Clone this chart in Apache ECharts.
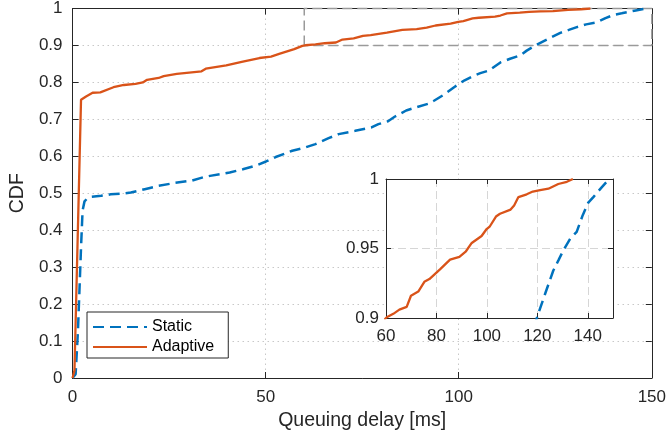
<!DOCTYPE html>
<html>
<head>
<meta charset="utf-8">
<script src="https://cdn.jsdelivr.net/npm/echarts@6/dist/echarts.min.js"></script>
<style>
html,body{margin:0;padding:0;background:#fff;}
#chart{width:669px;height:437px;}
</style>
</head>
<body>
<div id="chart"></div>
<script>
// ---- data ----
var seriesNames = ['Static', 'Adaptive'];
var staticCdf = [
  [0,0],[0.8,0.01],[1.4,0.127],[2.2,0.353],[2.6,0.453],[3.1,0.478],[3.8,0.486],[4.8,0.490],
  [7.4,0.493],[9.9,0.497],[12.9,0.499],[15.1,0.502],[18.7,0.511],[22.3,0.520],[26.5,0.528],
  [30.8,0.534],[33.8,0.543],[35.6,0.547],[40.7,0.556],[44.1,0.565],[47.5,0.575],[50.1,0.586],
  [52.6,0.598],[56.9,0.615],[60.3,0.624],[62.9,0.633],[66.3,0.649],[68.9,0.660],[73.2,0.669],
  [77.4,0.678],[79.2,0.687],[81.7,0.695],[83.4,0.707],[86.4,0.724],[88.5,0.731],[92,0.742],
  [93.7,0.751],[96.2,0.767],[98.8,0.787],[101.4,0.805],[103.5,0.816],[105.6,0.825],[107.8,0.832],
  [110.8,0.854],[113.3,0.864],[115.9,0.873],[117.6,0.886],[119.8,0.900],[123.2,0.918],[126.3,0.934],
  [128.5,0.942],[130.4,0.949],[133,0.957],[135.6,0.962],[138,0.974],[140.2,0.983],[142.2,0.987],
  [145.5,0.994],[148.5,1.0]
];
var adaptiveCdf = [
  [0,0],[0.5,0.02],[2.2,0.753],[3.5,0.762],[5.2,0.772],[7.2,0.773],[10.6,0.787],[13.3,0.793],
  [16.3,0.796],[18.2,0.800],[19.3,0.807],[22.3,0.812],[23.6,0.817],[27,0.823],[33.4,0.830],
  [34.5,0.837],[39.8,0.846],[44.1,0.856],[48.4,0.866],[51.4,0.870],[53.5,0.877],[57.4,0.890],
  [59.5,0.899],[60.3,0.9005],[62.9,0.903],[65.3,0.906],[68.2,0.908],[69.9,0.916],[72.8,0.919],
  [75.2,0.926],[77.2,0.928],[81.4,0.935],[85.4,0.942],[89.1,0.944],[91.7,0.948],[94,0.954],
  [97.9,0.959],[99.9,0.964],[101.2,0.966],[103.6,0.973],[105.2,0.975],[109.4,0.978],[110.8,0.981],
  [112.5,0.987],[115.8,0.989],[118.2,0.991],[121.1,0.992],[124.4,0.993],[128.3,0.9964],
  [131.7,0.998],[134.1,1.0]
];
var mainXRange = [0, 150, 50];
var mainYRange = [0, 1, 0.1];
var zoomXRange = [60, 150, 20];
var zoomYRange = [0.9, 1, 0.05];
var zoomBoxX = [60, 150];
var zoomBoxY = [0.9, 1];

// ---- chart ----
var FONT = "'Liberation Sans', Arial, Helvetica, sans-serif";
var AX = '#262626';
var BLUE = '#0072BD';
var ORANGE = '#D95319';

var zoomBox = [
  [zoomBoxX[0], zoomBoxY[0]], [zoomBoxX[0], zoomBoxY[1]], [zoomBoxX[1], zoomBoxY[1]],
  [zoomBoxX[1], zoomBoxY[0]], [zoomBoxX[0], zoomBoxY[0]]
];

function axisBase(grid, r, extra) {
  var a = {
    gridIndex: grid, type: 'value', min: r[0], max: r[1], interval: r[2],
    axisLine: {show: true, onZero: false, lineStyle: {color: AX, width: 1}},
    axisTick: {show: true, inside: true, length: 6, lineStyle: {color: AX, width: 1}},
    axisLabel: {show: false},
    splitLine: {show: false}
  };
  for (var k in extra) a[k] = extra[k];
  return a;
}

var chart = echarts.init(document.getElementById('chart'), null, {renderer: 'canvas'});
var option = {
  animation: false,
  backgroundColor: '#fff',
  textStyle: {fontFamily: FONT},
  grid: [
    {left: 69, right: 14, top: 7, bottom: 59, containLabel: false},
    {left: 386, top: 179, width: 227, height: 139, containLabel: false,
     show: true, backgroundColor: '#fff', borderWidth: 0, z: 10}
  ],
  legend: {
    data: seriesNames,
    orient: 'vertical',
    left: 87, top: 312,
    padding: [7, 14, 3, 5],
    itemWidth: 54, itemHeight: 14, itemGap: 4,
    backgroundColor: '#fff',
    borderColor: AX, borderWidth: 1, borderRadius: 0,
    itemStyle: {opacity: 0},
    textStyle: {fontSize: 16, color: '#000', fontFamily: FONT},
    z: 20
  },
  xAxis: [
    axisBase(0, mainXRange, {
      position: 'bottom',
      axisLabel: {show: true, fontSize: 17, color: AX, margin: 11, fontFamily: FONT},
      splitLine: {show: true, lineStyle: {color: '#c8c8c8', width: 1, type: [1.5, 3.5]}},
      name: 'Queuing delay [ms]', nameLocation: 'middle', nameGap: 33,
      nameTextStyle: {fontSize: 19.5, color: AX, fontFamily: FONT}
    }),
    axisBase(0, mainXRange, {position: 'top'}),
    axisBase(1, zoomXRange, {
      position: 'bottom', z: 11,
      axisTick: {show: true, inside: true, length: 5, lineStyle: {color: AX, width: 1}},
      axisLabel: {show: true, fontSize: 17, color: AX, margin: 10, fontFamily: FONT,
        formatter: function (v) { return v === zoomXRange[1] ? '' : String(v); }},
      splitLine: {show: true, lineStyle: {color: '#d6d6d6', width: 1, type: [8, 4]}}
    }),
    axisBase(1, zoomXRange, {position: 'top', z: 11,
      axisTick: {show: true, inside: true, length: 5, lineStyle: {color: AX, width: 1}}})
  ],
  yAxis: [
    axisBase(0, mainYRange, {
      position: 'left',
      axisLabel: {show: true, fontSize: 17, color: AX, margin: 10, fontFamily: FONT},
      splitLine: {show: true, lineStyle: {color: '#c8c8c8', width: 1, type: [1.5, 3.5]}},
      name: 'CDF', nameLocation: 'middle', nameGap: 43, nameRotate: 90,
      nameTextStyle: {fontSize: 19.5, color: AX, fontFamily: FONT}
    }),
    axisBase(0, mainYRange, {position: 'right'}),
    axisBase(1, zoomYRange, {
      position: 'left', z: 11,
      axisTick: {show: true, inside: true, length: 5, lineStyle: {color: AX, width: 1}},
      axisLabel: {show: true, fontSize: 17, color: AX, margin: 7, fontFamily: FONT},
      splitLine: {show: true, lineStyle: {color: '#d6d6d6', width: 1, type: [8, 4]}}
    }),
    axisBase(1, zoomYRange, {position: 'right', z: 11,
      axisTick: {show: true, inside: true, length: 5, lineStyle: {color: AX, width: 1}}})
  ],
  series: [
    {
      name: 'zoom', type: 'line', xAxisIndex: 0, yAxisIndex: 0, data: zoomBox,
      symbol: 'none', silent: true, z: 2, clip: false,
      lineStyle: {color: '#9a9a9a', width: 1.5, type: [10, 5]}
    },
    {
      name: seriesNames[0], type: 'line', xAxisIndex: 0, yAxisIndex: 0, data: staticCdf,
      symbol: 'none', z: 3, color: BLUE,
      lineStyle: {color: BLUE, width: 2.5, type: [11, 6]}
    },
    {
      name: seriesNames[1], type: 'line', xAxisIndex: 0, yAxisIndex: 0, data: adaptiveCdf,
      symbol: 'none', z: 3, color: ORANGE,
      lineStyle: {color: ORANGE, width: 2.3, type: 'solid'}
    },
    {
      name: seriesNames[0], type: 'line', xAxisIndex: 2, yAxisIndex: 2, data: staticCdf,
      symbol: 'none', z: 12, color: BLUE,
      lineStyle: {color: BLUE, width: 2.5, type: [11, 6]}
    },
    {
      name: seriesNames[1], type: 'line', xAxisIndex: 2, yAxisIndex: 2, data: adaptiveCdf,
      symbol: 'none', z: 12, color: ORANGE,
      lineStyle: {color: ORANGE, width: 2.3, type: 'solid'}
    }
  ]
};
chart.setOption(option);
</script>
</body>
</html>
